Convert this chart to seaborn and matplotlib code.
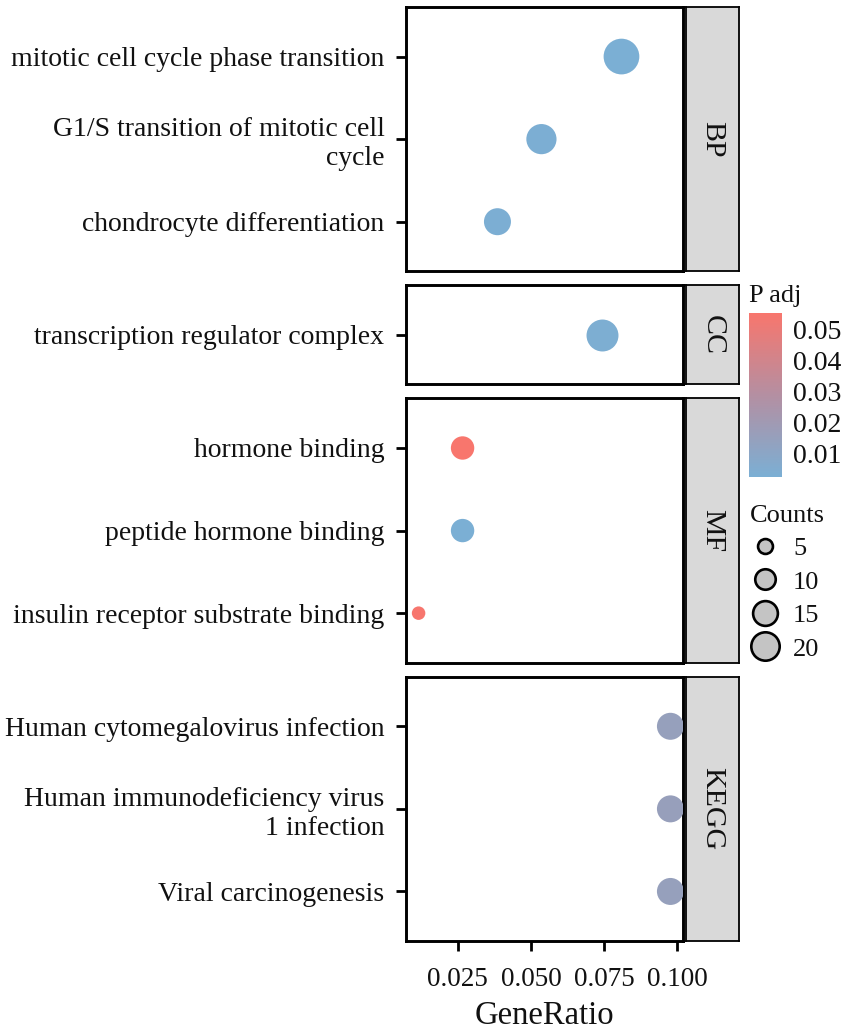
"""
Dot plot de enriquecimiento (GO BP/CC/MF + KEGG) con facetas por categoría.
"""
import pandas as pd
import matplotlib
matplotlib.use("Agg")
import matplotlib.pyplot as plt
import seaborn as sns
from matplotlib.colors import LinearSegmentedColormap, Normalize
from matplotlib.cm import ScalarMappable
from matplotlib.lines import Line2D
from matplotlib.ticker import FormatStrFormatter

# --- datos ---
categories = ["BP", "CC", "MF", "KEGG"]
terms = [
    "mitotic cell cycle phase transition",
    "G1/S transition of mitotic cell\ncycle",
    "chondrocyte differentiation",
    "transcription regulator complex",
    "hormone binding",
    "peptide hormone binding",
    "insulin receptor substrate binding",
    "Human cytomegalovirus infection",
    "Human immunodeficiency virus\n1 infection",
    "Viral carcinogenesis",
]
term_category = ["BP", "BP", "BP", "CC", "MF", "MF", "MF", "KEGG", "KEGG", "KEGG"]
gene_ratio = [0.0809, 0.0536, 0.0386, 0.0744, 0.0267, 0.0267, 0.0117, 0.0976, 0.0976, 0.0976]
counts = [35, 25, 20, 28, 15, 15, 5, 20, 20, 20]
p_adj = [0.0024, 0.0030, 0.0030, 0.0035, 0.0555, 0.0023, 0.0550, 0.0150, 0.0155, 0.0150]

x_ticks = [0.025, 0.050, 0.075, 0.100]
cbar_ticks = [0.01, 0.02, 0.03, 0.04, 0.05]
legend_counts = [5, 10, 15, 20]

df = pd.DataFrame({
    "term": terms,
    "category": term_category,
    "GeneRatio": gene_ratio,
    "Counts": counts,
    "p.adjust": p_adj,
})

# --- estilo ---
sns.set_theme(style="white")
plt.rcParams["font.family"] = ["Liberation Serif", "DejaVu Serif"]
FS = 20
TXT = "#111111"
SIZE_PER_COUNT = 18.9  # área del marcador (pt^2) por gen
cmap = LinearSegmentedColormap.from_list("padj", ["#7BAFD4", "#B48FA2", "#F8766D"])
hue_norm = Normalize(min(p_adj), max(p_adj))

fig = plt.figure(figsize=(8.51, 10.31), dpi=100)
n_per_cat = [term_category.count(c) for c in categories]
gs = fig.add_gridspec(
    len(categories), 2,
    height_ratios=[n + 0.2 for n in n_per_cat],
    width_ratios=[277, 53],
    left=406 / 851, right=739 / 851, top=1 - 7 / 1031, bottom=1 - 941 / 1031,
    hspace=0.063, wspace=0.018,
)

x_lo = min(gene_ratio) - 0.05 * (max(gene_ratio) - min(gene_ratio))
x_hi = max(gene_ratio) + 0.05 * (max(gene_ratio) - min(gene_ratio))

for i, cat in enumerate(categories):
    ax = fig.add_subplot(gs[i, 0])
    sub = df[df["category"] == cat]
    sns.scatterplot(
        data=sub, x="GeneRatio", y="term",
        hue="p.adjust", hue_norm=hue_norm, palette=cmap,
        size="Counts", size_norm=(0, 40), sizes=(0, 40 * SIZE_PER_COUNT),
        linewidth=0, legend=False, ax=ax, zorder=3,
    )
    n = len(sub)
    ax.set_ylim(n - 0.4, -0.6)
    ax.set_xlim(x_lo, x_hi)
    ax.set_ylabel("")
    ax.set_xlabel("")
    for s in ax.spines.values():
        s.set_linewidth(2.1)
        s.set_color("black")
    ax.tick_params(axis="y", length=7.5, width=2, color="black", pad=8,
                   labelsize=FS, labelcolor=TXT, left=True)
    ax.set_xticks(x_ticks)
    if i == len(categories) - 1:
        ax.xaxis.set_major_formatter(FormatStrFormatter("%.3f"))
        ax.tick_params(axis="x", length=7.5, width=2, color="black", pad=11,
                       labelsize=19.5, labelcolor=TXT, bottom=True)
        ax.set_xlabel("GeneRatio", fontsize=23.5, labelpad=6, color=TXT)
    else:
        ax.tick_params(axis="x", bottom=False, labelbottom=False)

    # tira lateral de la faceta
    sax = fig.add_subplot(gs[i, 1])
    sax.set_facecolor("#D9D9D9")
    sax.set_xticks([])
    sax.set_yticks([])
    for s in sax.spines.values():
        s.set_linewidth(1.3)
        s.set_color("black")
    sax.text(0.5, 0.5, cat, rotation=270, ha="center", va="center",
             fontsize=21.5, color=TXT, transform=sax.transAxes)

# --- barra de color (P adj) ---
cax = fig.add_axes([749 / 851, 1 - 477 / 1031, 33 / 851, 164 / 1031])
sm = ScalarMappable(norm=hue_norm, cmap=cmap)
cb = fig.colorbar(sm, cax=cax, ticks=cbar_ticks)
cb.outline.set_visible(False)
cax.yaxis.set_ticks_position("both")
cax.tick_params(axis="y", direction="in", length=5, width=1.2, color="white",
                labelcolor=TXT, labelsize=FS, labelleft=False, labelright=True, pad=8)
cax.yaxis.set_major_formatter(FormatStrFormatter("%.2f"))
fig.text(749 / 851, 1 - 296 / 1031, "P adj", fontsize=19, ha="left", va="center", color=TXT)

# --- leyenda de tamaños (Counts) ---
handles = [
    Line2D([], [], linestyle="", marker="o", markersize=(c * SIZE_PER_COUNT) ** 0.5 + 1,
           markerfacecolor="#C4C4C4", markeredgecolor="black", markeredgewidth=1.9)
    for c in legend_counts
]
leg = fig.legend(
    handles, [str(c) for c in legend_counts], title="Counts",
    loc="upper left", bbox_to_anchor=(739 / 851, 1 - 494 / 1031),
    frameon=False, fontsize=19, title_fontsize=19,
    labelspacing=0.38, handletextpad=0.45, borderaxespad=0, handlelength=1.2,
)
for t in leg.get_texts():
    t.set_color(TXT)
leg.get_title().set_color(TXT)
leg._legend_box.align = "left"

fig.savefig("out.png", dpi=100)
